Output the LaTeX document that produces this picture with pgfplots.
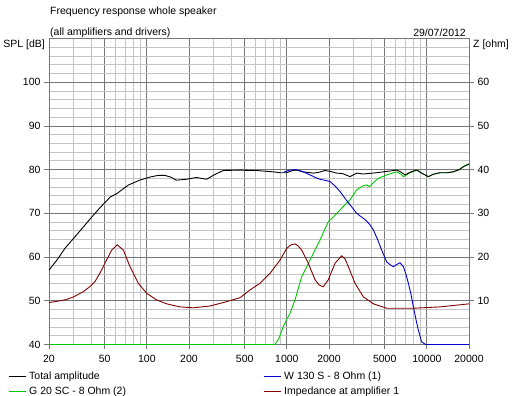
\documentclass[border=0pt]{standalone}
\usepackage{fontspec}
\setmainfont{Liberation Sans}
\usepackage{pgfplots}
\pgfplotsset{compat=1.18}
\definecolor{cblue}{RGB}{0,0,200}
\definecolor{cgreen}{RGB}{0,200,0}
\definecolor{cbrown}{RGB}{128,0,0}
\definecolor{gmaj}{RGB}{118,118,118}
\definecolor{gmin}{RGB}{196,196,196}
\newcommand{\fs}{\fontsize{10.5}{12}\selectfont}
\begin{document}
\begin{tikzpicture}
\useasboundingbox (-49pt,-51.5pt) rectangle (466pt,344.5pt);
\begin{axis}[
  scale only axis, width=420pt, height=306pt,
  xmode=log, xmin=20, xmax=20000, ymin=40, ymax=110,
  log basis x=10,
  xtick={20,50,100,200,500,1000,2000,5000,10000,20000},
  xticklabels={20,50,100,200,500,1000,2000,5000,10000,20000},
  minor xtick={30,40,60,70,80,90,300,400,600,700,800,900,3000,4000,6000,7000,8000,9000},
  ytick={40,50,...,100},
  minor ytick={40,42,...,110},
  grid=both,
  major grid style={draw=gmaj, line width=0.8pt},
  minor grid style={draw=gmin, line width=0.8pt},
  axis line style={draw=gmaj, line width=0.8pt},
  tick style={draw=gmaj, line width=0.8pt},
  tick align=outside, major tick length=5pt, minor tick length=0pt,
  xtick pos=bottom, ytick pos=left,
  clip=false,
  every tick label/.append style={font=\fs},
  x tick label style={yshift=-2pt},
  /pgf/number format/assume math mode=true,
  legend columns=2,
  legend style={draw=none, fill=none, font=\fs,
    at={(rel axis cs:0,0)}, anchor=north west, xshift=-41pt, yshift=-25pt,
    row sep=0pt, inner sep=0pt,
    nodes={inner xsep=3pt, inner ysep=2pt, text height=8pt, text depth=2.5pt}},
  legend cell align=left,
]
\addlegendimage{legend image code/.code={\draw[black, line width=1pt] (0pt,0pt) -- (17pt,0pt);}}
\addlegendentry{\makebox[231pt][l]{Total amplitude}}
\addlegendimage{legend image code/.code={\draw[cblue, line width=1pt] (0pt,0pt) -- (17pt,0pt);}}
\addlegendentry{W 130 S - 8 Ohm (1)}
\addlegendimage{legend image code/.code={\draw[cgreen, line width=1pt] (0pt,0pt) -- (17pt,0pt);}}
\addlegendentry{\makebox[231pt][l]{G 20 SC - 8 Ohm (2)}}
\addlegendimage{legend image code/.code={\draw[cbrown, line width=1pt] (0pt,0pt) -- (17pt,0pt);}}
\addlegendentry{Impedance at amplifier 1}

% G 20 SC
\addplot[cgreen, line width=0.9pt, forget plot] coordinates {
(20,40) (822,40) (880,41.5) (944,44.1) (1000,45.8) (1052,47.1) (1143,50.2)
(1276,55.5) (1462,59.3) (1600,61.8) (1725,63.9) (1977,68.1) (2200,69.5)
(2398,70.8) (2825,73.1) (3155,75.4) (3500,76.3) (3720,76.5) (3900,76.1)
(4200,77.2) (4500,78.0) (5160,78.8) (6095,79.5) (6500,79.0) (6800,78.4)
(7510,79.2) (8470,79.9) (9200,79.2) (10240,78.4) (11000,78.9) (12410,79.3)
(14000,79.3) (15450,79.5) (17000,80.0) (18500,80.8) (20000,81.3)
};
% Total amplitude
\addplot[black, line width=0.9pt, forget plot] coordinates {
(20,57.0) (23,59.5) (26,62.0) (30,64.3) (35,66.8) (40,69.0) (46,71.2)
(51,72.7) (55,73.8) (61,74.5) (67,75.5) (74,76.5) (89,77.6) (105,78.3)
(121,78.7) (134,78.7) (148,78.3) (162,77.6) (192,77.8) (226,78.2) (267,77.8)
(306,78.9) (352,79.8) (463,79.9) (546,79.8) (608,79.8) (800,79.5) (893,79.3)
(998,79.3) (1100,79.8) (1175,79.9) (1300,79.5) (1545,79.2) (1700,79.4)
(1870,79.8) (2050,79.6) (2268,79.2) (2500,79.1) (2825,78.4) (3155,79.2)
(3500,79.0) (4385,79.3) (5200,79.6) (6095,79.9) (6500,79.5) (6985,78.8)
(7700,79.5) (8470,79.9) (9200,79.2) (10240,78.4) (11000,78.9) (12410,79.3)
(14000,79.3) (15450,79.5) (17000,80.0) (18500,80.8) (20000,81.3)
};
% W 130 S
\addplot[cblue, line width=0.9pt, forget plot] coordinates {
(950,79.4) (1000,79.7) (1052,79.9) (1150,80.0) (1235,79.8) (1330,79.4)
(1462,78.8) (1600,78.2) (1725,77.8) (1850,77.6) (2033,77.3) (2200,76.3)
(2398,75.0) (2677,72.9) (2900,71.5) (3155,70.0) (3400,69.2) (3614,68.6)
(3900,67.5) (4150,66.2) (4450,64.0) (4755,61.6) (5160,58.9) (5500,58.2)
(5760,57.8) (6100,58.3) (6430,58.7) (6800,57.8) (7100,56.0) (7380,54.0)
(7700,51.5) (8010,48.6) (8350,45.8) (8690,43.3) (9180,40.6) (9800,40)
(20000,40)
};
\end{axis}
\begin{axis}[
  scale only axis, width=420pt, height=306pt,
  xmode=log, xmin=20, xmax=20000, ymin=0, ymax=70,
  hide x axis, axis y line*=right,
  ytick={10,20,...,60},
  axis line style={draw=gmaj, line width=0.8pt},
  tick style={draw=gmaj, line width=0.8pt},
  tick align=outside, major tick length=5pt,
  clip=false,
  every tick label/.append style={font=\fs},
  /pgf/number format/assume math mode=true,
]
% Impedance at amplifier 1 (ohm)
\addplot[cbrown, line width=0.9pt] coordinates {
(20,9.6) (23,9.9) (26.7,10.3) (30,10.9) (35.2,12.1) (39,13.2) (42.6,14.4)
(46,16.2) (50.2,18.6) (56.1,21.6) (61.5,22.8) (67.9,21.6) (75.8,17.8)
(86.9,14.0) (99.8,11.7) (117.5,10.2) (138.6,9.3) (172.5,8.6) (215,8.4)
(282,8.8) (352,9.6) (463,10.7) (546,12.5) (643,14.0) (759,16.3) (893,19.3)
(998,22.0) (1070,22.8) (1143,23.0) (1200,22.6) (1276,21.6) (1422,18.6)
(1590,14.8) (1700,13.6) (1820,13.2) (1977,14.8) (2208,18.6) (2466,20.3)
(2600,19.6) (2750,17.8) (3068,14.0) (3518,10.9) (4150,9.3) (5160,8.3)
(8010,8.3) (12410,8.6) (20000,9.3)
};
\end{axis}
\node[anchor=west, inner sep=0pt, font=\fs] at (1pt,332.5pt) {Frequency response whole speaker};
\node[anchor=west, inner sep=0pt, font=\fs] at (1pt,312pt) {(all amplifiers and drivers)};
\node[anchor=east, inner sep=0pt, font=\fs] at (417pt,312pt) {29/07/2012};
\node[anchor=east, inner sep=0pt, font=\fs] at (-4pt,300pt) {SPL [dB]};
\node[anchor=west, inner sep=0pt, font=\fs] at (424pt,300pt) {Z [ohm]};
\end{tikzpicture}
\end{document}
